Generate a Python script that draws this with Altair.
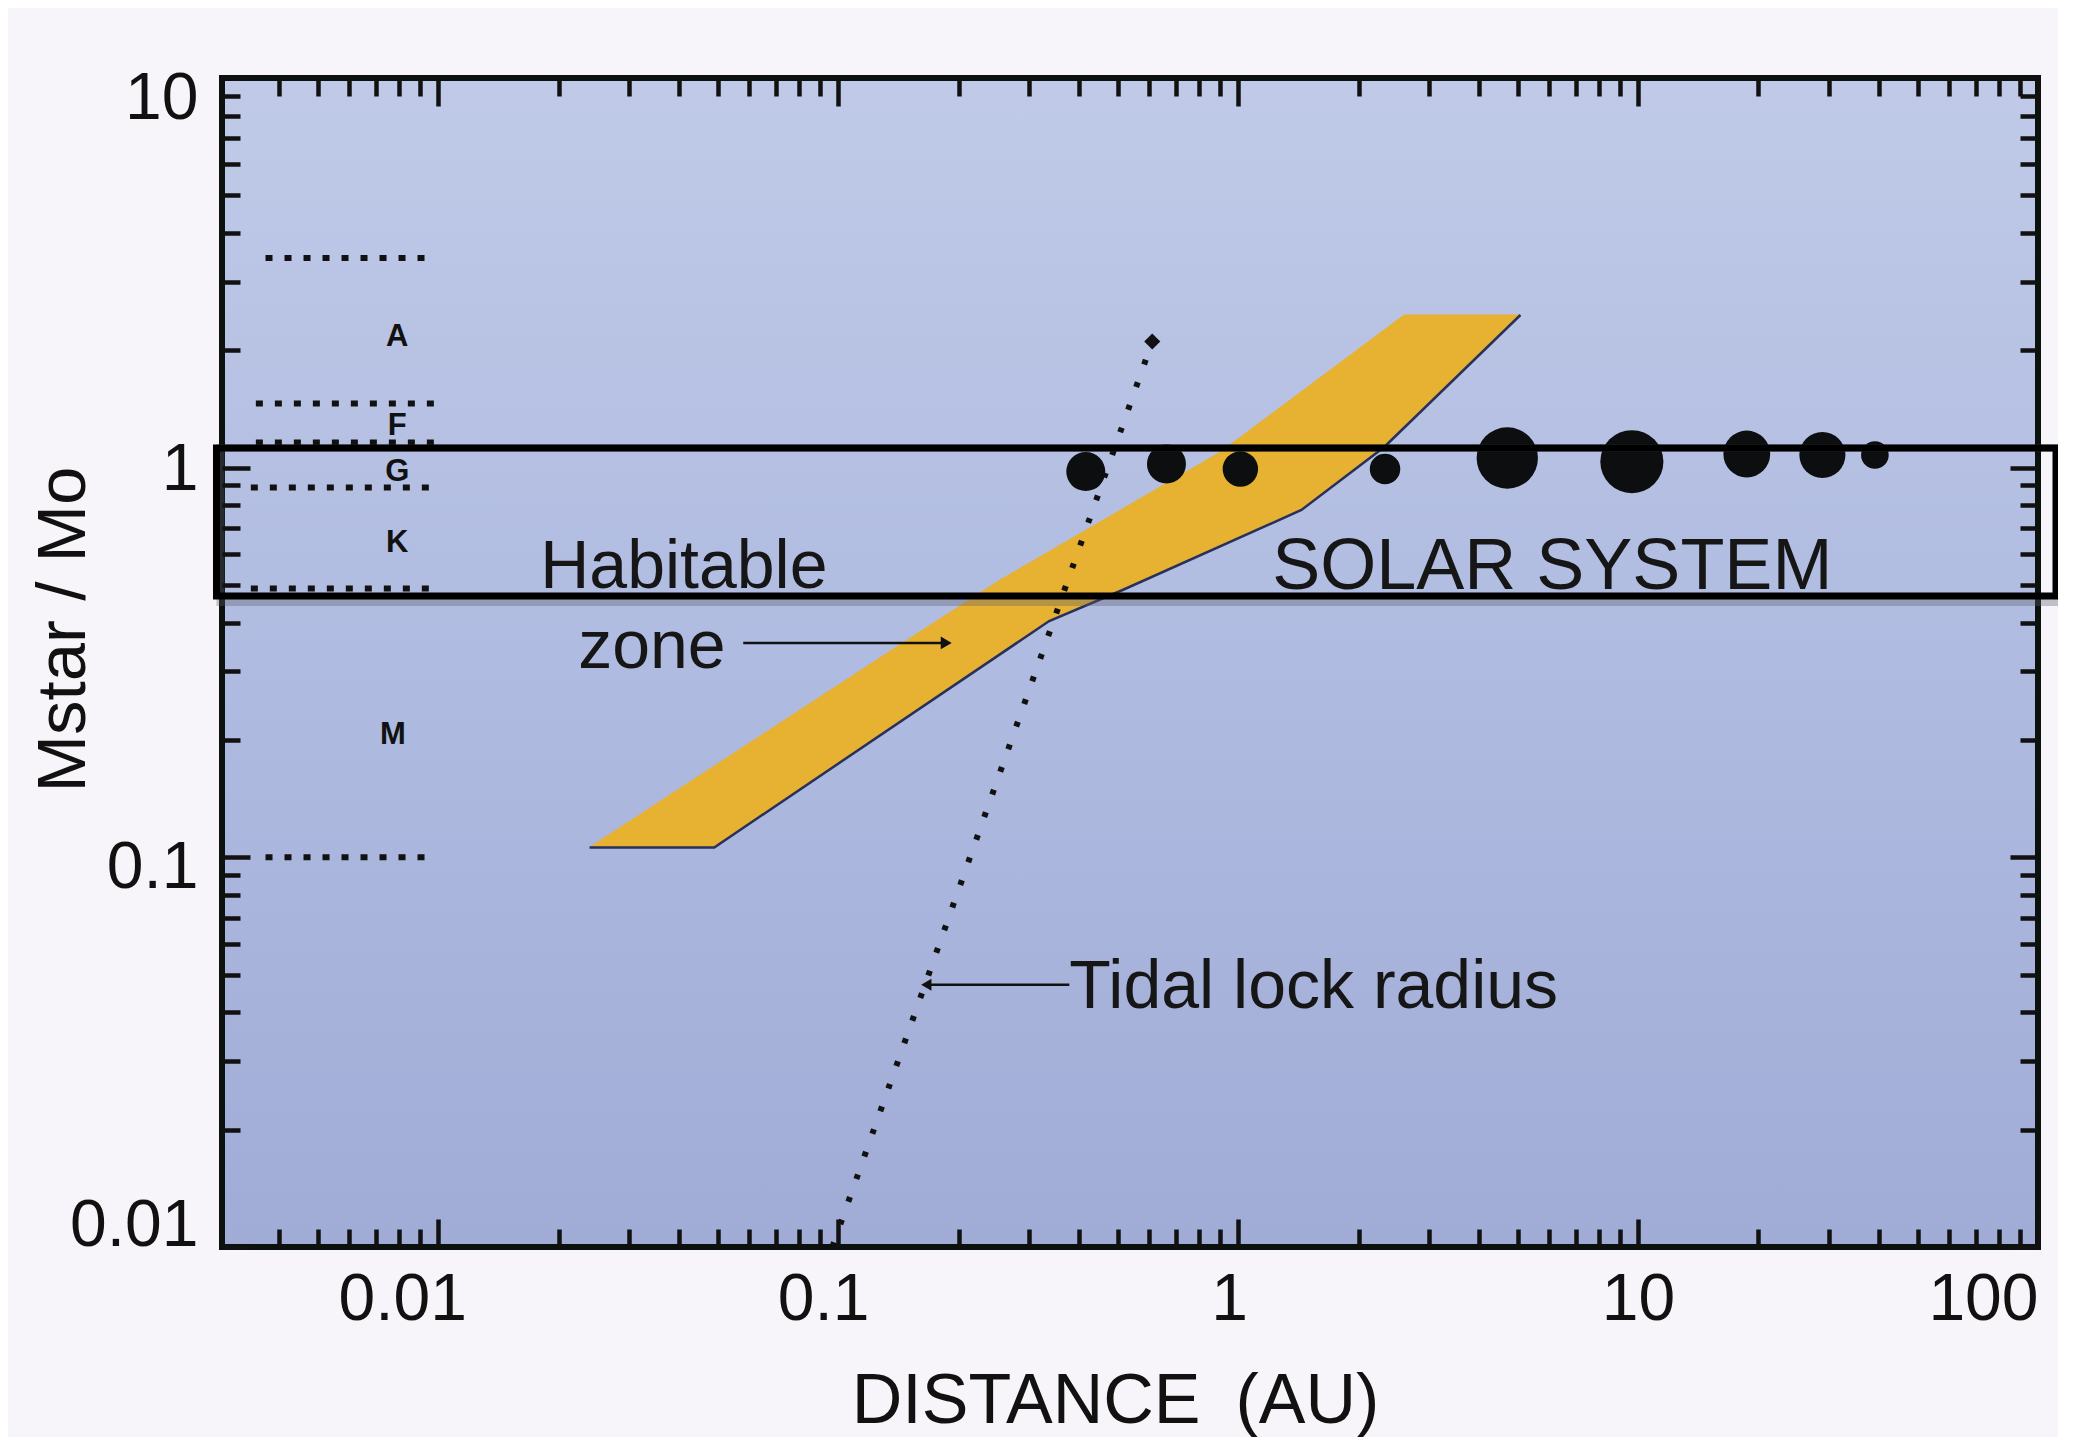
import altair as alt
import pandas as pd

# ------------------------------------------------------------------ data
X_DOMAIN = [0.00288, 100]          # distance (AU), log axis
Y_DOMAIN = [0.01, 10]              # M_star / M_sun, log axis

x_major = [0.01, 0.1, 1, 10, 100]
x_minor = [0.004, 0.005, 0.006, 0.007, 0.008, 0.009,
           0.02, 0.03, 0.04, 0.05, 0.06, 0.07, 0.08, 0.09,
           0.2, 0.3, 0.4, 0.5, 0.6, 0.7, 0.8, 0.9,
           2, 3, 4, 5, 6, 7, 8, 9,
           20, 30, 40, 50, 60, 70, 80, 90]
y_major = [0.01, 0.1, 1, 10]
y_minor = [0.02, 0.03, 0.04, 0.05, 0.06, 0.07, 0.08, 0.09,
           0.2, 0.3, 0.4, 0.5, 0.6, 0.7, 0.8, 0.9,
           2, 3, 4, 5, 6, 7, 8, 9]

# spectral-class boundaries (dotted lines at left)
boundary_mass = [3.45, 1.46, 1.16, 0.89, 0.49, 0.10]
boundary_x_start = [0.0037, 0.0035, 0.0035, 0.0034, 0.0034, 0.0037]
boundary_x_end = [0.0098, 0.0098, 0.0098, 0.0097, 0.0096, 0.0098]
class_names = ["A", "F", "G", "K", "M"]
class_mass = [2.17, 1.28, 0.975, 0.64, 0.206]
class_x = [0.0079, 0.0079, 0.0079, 0.0079, 0.0077]

# habitable zone polygon (AU, M_star)
hz_au = [0.0239, 0.145, 0.254, 0.903, 2.60, 5.08, 2.32, 1.44, 0.516, 0.337, 0.049]
hz_mass = [0.106, 0.355, 0.515, 1.097, 2.465, 2.465, 1.13, 0.779, 0.486, 0.404, 0.106]
hz_outline_idx = [0, 10, 9, 8, 7, 6, 5]

# tidal lock radius
tidal_au = [0.0967, 0.610]
tidal_mass = [0.01, 2.108]

# solar system planets
planet_names = ["Mercury", "Venus", "Earth", "Mars", "Jupiter",
                "Saturn", "Uranus", "Neptune", "Pluto"]
planet_au = [0.416, 0.662, 1.013, 2.33, 4.71, 9.65, 18.7, 28.9, 39.1]
planet_mass = [0.977, 1.022, 0.992, 0.992, 1.059, 1.036, 1.084, 1.078, 1.078]
planet_rel_dot = [1.10, 1.10, 1.00, 0.86, 1.73, 1.78, 1.32, 1.30, 0.78]

# annotation texts
note_text = ["Habitable", "zone", "Tidal lock radius"]
note_au = [0.01799, 0.02239, 0.3784]
note_mass = [0.4913, 0.3062, 0.04108]
solar_text = "SOLAR SYSTEM"
solar_au = 1.217
solar_mass = 0.4884

zone_arrow_au = [0.0579, 0.1863]
zone_arrow_mass = 0.3550
tidal_arrow_au = [0.1661, 0.3784]
tidal_arrow_mass = 0.0471

# highlight box around the solar-system row
box_au = [0.00279, 111.0]
box_mass = [0.4687, 1.124]

# ------------------------------------------------------------------ layout
W, H = 1816, 1169
FONT = "Liberation Sans"
INK = "#111111"

xs = alt.Scale(type="log", domain=X_DOMAIN, nice=False)
ys = alt.Scale(type="log", domain=Y_DOMAIN, nice=False)

MAJOR_TEST = "abs(log(datum.value)/LN10 - round(log(datum.value)/LN10)) < 0.001"
tick_len = {"condition": {"test": MAJOR_TEST, "value": 28}, "value": 18}


def tick_axis(orient, offset, values):
    return alt.Axis(orient=orient, offset=offset, values=values, labels=False,
                    domain=False, grid=False, ticks=True, tickSize=tick_len,
                    tickWidth=4.5, tickColor=INK, title=None, zindex=2)


x_all = sorted(x_major + x_minor)
y_all = sorted(y_major + y_minor)

x_label_shift = {"condition": [{"test": "datum.value < 0.05", "value": -36},
                               {"test": "datum.value < 0.5", "value": -15},
                               {"test": "datum.value < 5", "value": -9}],
                 "value": 0}
y_label_shift = {"condition": [{"test": "datum.value > 5", "value": -12},
                               {"test": "datum.value < 0.05", "value": 12},
                               {"test": "datum.value < 0.5", "value": 10}],
                 "value": 2}

x_label_axis = alt.Axis(
    orient="bottom", values=x_major, format="~g", ticks=False, domain=False,
    grid=False, labelFont=FONT, labelFontSize=66, labelColor=INK,
    labelPadding=20, labelFlush=True, labelOffset=x_label_shift,
    title="DISTANCE\u2002(AU)", titleFont=FONT, titleFontSize=70,
    titleFontWeight="normal", titleColor=INK, titleX=893, titleY=175,
    titleAlign="center", titleBaseline="alphabetic", zindex=1)
y_label_axis = alt.Axis(
    orient="left", values=y_major, format="~g", ticks=False, domain=False,
    grid=False, labelFont=FONT, labelFontSize=66, labelColor=INK,
    labelPadding=24, labelFlush=True, labelOffset=y_label_shift,
    title="Mstar / Mo", titleFont=FONT, titleFontSize=69,
    titleFontWeight="normal", titleColor=INK, titleAngle=270, titleX=-138,
    titleY=551, titleAlign="center", titleBaseline="alphabetic", zindex=1)

# ------------------------------------------------------------------ frames
frame_df = pd.DataFrame({"x": [X_DOMAIN[0]], "x2": [X_DOMAIN[1]],
                         "y": [Y_DOMAIN[0]], "y2": [Y_DOMAIN[1]]})

bg = alt.Chart(frame_df).mark_rect(
    fill=alt.LinearGradient(
        gradient="linear", x1=0, x2=0, y1=0, y2=1,
        stops=[alt.GradientStop(color="#c0cae8", offset=0),
               alt.GradientStop(color="#afbbe0", offset=0.5),
               alt.GradientStop(color="#a0acd6", offset=1)])
).encode(
    x=alt.X("x:Q", scale=xs, axis=x_label_axis), x2="x2:Q",
    y=alt.Y("y:Q", scale=ys, axis=y_label_axis), y2="y2:Q")

frame = alt.Chart(frame_df).mark_rect(
    filled=False, stroke="#0b120e", strokeWidth=6
).encode(x=alt.X("x:Q", scale=xs, axis=None), x2="x2:Q",
         y=alt.Y("y:Q", scale=ys, axis=None), y2="y2:Q")

# ------------------------------------------------------------------ spectral classes
bound_df = pd.DataFrame({"x": boundary_x_start, "x2": boundary_x_end,
                         "m": boundary_mass})
bounds = alt.Chart(bound_df).mark_rule(
    color=INK, strokeWidth=6, strokeDash=[7, 12]
).encode(x=alt.X("x:Q", scale=xs, axis=tick_axis("top", -H, x_all)),
         x2="x2:Q",
         y=alt.Y("m:Q", scale=ys, axis=tick_axis("right", -W, y_all)))

class_df = pd.DataFrame({"name": class_names, "x": class_x, "m": class_mass})
class_labels = alt.Chart(class_df).mark_text(
    font=FONT, fontSize=31, fontWeight="bold", color=INK,
    align="center", baseline="middle"
).encode(x=alt.X("x:Q", scale=xs, axis=tick_axis("bottom", -H, x_all)),
         y=alt.Y("m:Q", scale=ys, axis=tick_axis("left", -W, y_all)),
         text="name:N")

# ------------------------------------------------------------------ habitable zone
hz_df = pd.DataFrame({"i": list(range(len(hz_au))), "au": hz_au, "m": hz_mass})
hz_fill = alt.Chart(hz_df).mark_line(
    fill="#e7b232", stroke="#e7b232", strokeWidth=1, interpolate="linear"
).encode(x=alt.X("au:Q", scale=xs, axis=None),
         y=alt.Y("m:Q", scale=ys, axis=None),
         order="i:Q")

edge_df = pd.DataFrame({"i": list(range(len(hz_outline_idx))),
                        "au": [hz_au[k] for k in hz_outline_idx],
                        "m": [hz_mass[k] for k in hz_outline_idx]})
hz_edge = alt.Chart(edge_df).mark_line(
    color="#28305c", strokeWidth=2.5
).encode(x=alt.X("au:Q", scale=xs, axis=None),
         y=alt.Y("m:Q", scale=ys, axis=None),
         order="i:Q")

# ------------------------------------------------------------------ tidal lock line
tidal_df = pd.DataFrame({"x": [tidal_au[0]], "x2": [tidal_au[1]],
                         "y": [tidal_mass[0]], "y2": [tidal_mass[1]]})
tidal = alt.Chart(tidal_df).mark_rule(
    color=INK, strokeWidth=6, strokeDash=[5, 19]
).encode(x=alt.X("x:Q", scale=xs, axis=None), x2="x2:Q",
         y=alt.Y("y:Q", scale=ys, axis=None), y2="y2:Q")
tidal_end = alt.Chart(pd.DataFrame({"x": [tidal_au[1]], "y": [tidal_mass[1]]})).mark_point(
    shape="diamond", filled=True, color=INK, opacity=1, size=260
).encode(x=alt.X("x:Q", scale=xs, axis=None),
         y=alt.Y("y:Q", scale=ys, axis=None))

# ------------------------------------------------------------------ planets
planet_df = pd.DataFrame({"name": planet_names, "au": planet_au,
                          "m": planet_mass, "dot": planet_rel_dot})
planets = alt.Chart(planet_df).mark_circle(color="#0c0e10", opacity=1).encode(
    x=alt.X("au:Q", scale=xs, axis=None),
    y=alt.Y("m:Q", scale=ys, axis=None),
    size=alt.Size("dot:Q", scale=alt.Scale(type="pow", exponent=2,
                                           domain=[0, 2], range=[0, 5027]),
                  legend=None),
    tooltip=["name:N"])

# ------------------------------------------------------------------ annotations
note_df = pd.DataFrame({"t": note_text, "au": note_au, "m": note_mass})
notes = alt.Chart(note_df).mark_text(
    font=FONT, fontSize=68, color="#161616", align="left", baseline="alphabetic"
).encode(x=alt.X("au:Q", scale=xs, axis=None),
         y=alt.Y("m:Q", scale=ys, axis=None), text="t:N")

solar_df = pd.DataFrame({"t": [solar_text], "au": [solar_au], "m": [solar_mass]})
solar = alt.Chart(solar_df).mark_text(
    font=FONT, fontSize=72, color="#161616", align="left", baseline="alphabetic"
).encode(x=alt.X("au:Q", scale=xs, axis=None),
         y=alt.Y("m:Q", scale=ys, axis=None), text="t:N")

arrow_df = pd.DataFrame({"x": [zone_arrow_au[0], tidal_arrow_au[0]],
                         "x2": [zone_arrow_au[1], tidal_arrow_au[1]],
                         "y": [zone_arrow_mass, tidal_arrow_mass]})
arrow_lines = alt.Chart(arrow_df).mark_rule(color=INK, strokeWidth=2.5).encode(
    x=alt.X("x:Q", scale=xs, axis=None), x2="x2:Q",
    y=alt.Y("y:Q", scale=ys, axis=None))
head_r = alt.Chart(pd.DataFrame({"x": [zone_arrow_au[1]], "y": [zone_arrow_mass]})).mark_point(
    shape="triangle-right", filled=True, color=INK, opacity=1, size=160
).encode(x=alt.X("x:Q", scale=xs, axis=None), y=alt.Y("y:Q", scale=ys, axis=None))
head_l = alt.Chart(pd.DataFrame({"x": [tidal_arrow_au[0]], "y": [tidal_arrow_mass]})).mark_point(
    shape="triangle-left", filled=True, color=INK, opacity=1, size=140
).encode(x=alt.X("x:Q", scale=xs, axis=None), y=alt.Y("y:Q", scale=ys, axis=None))

box_df = pd.DataFrame({"x": [box_au[0]], "x2": [box_au[1]],
                       "y": [box_mass[0]], "y2": [box_mass[1]]})
box_shadow = alt.Chart(box_df).mark_rect(
    filled=False, stroke="#5c5c6a", strokeWidth=8, opacity=0.35,
    xOffset=4, yOffset=6
).encode(x=alt.X("x:Q", scale=xs, axis=None), x2="x2:Q",
         y=alt.Y("y:Q", scale=ys, axis=None), y2="y2:Q")
box = alt.Chart(box_df).mark_rect(
    filled=False, stroke="#000000", strokeWidth=7
).encode(x=alt.X("x:Q", scale=xs, axis=None), x2="x2:Q",
         y=alt.Y("y:Q", scale=ys, axis=None), y2="y2:Q")

chart = alt.layer(
    bg, bounds, class_labels, hz_fill, hz_edge, tidal, tidal_end, planets,
    notes, solar, arrow_lines, head_r, head_l, frame, box_shadow, box
).resolve_axis(
    x="independent", y="independent"
).properties(
    width=W, height=H,
    autosize=alt.AutoSizeParams(type="none"),
    padding={"left": 214, "top": 70, "right": 20, "bottom": 190},
    background="#f7f5f9"
).configure_view(stroke=None)

chart.save("out.html", embed_options={"renderer": "svg", "actions": False})
